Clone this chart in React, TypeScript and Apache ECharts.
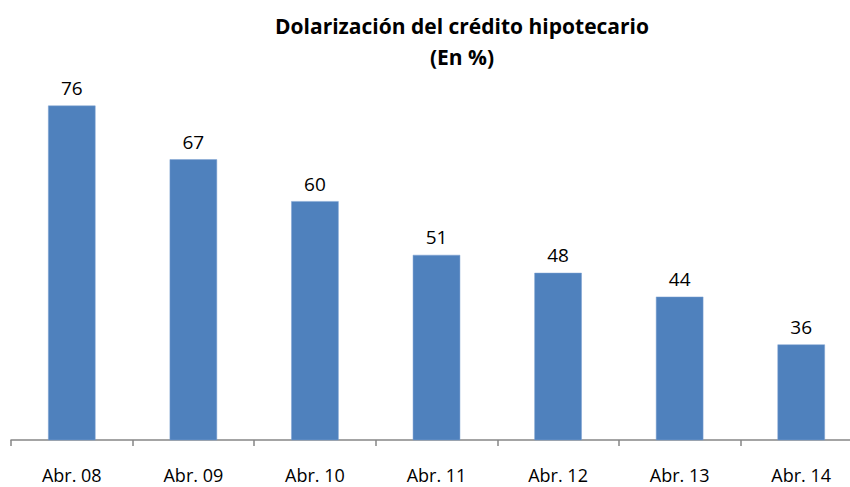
import React, { useEffect, useRef } from "react";
import * as echarts from "echarts";

const categories = ["Abr. 08", "Abr. 09", "Abr. 10", "Abr. 11", "Abr. 12", "Abr. 13", "Abr. 14"];
const values = [76, 67, 60, 51, 48, 44, 36];

export default function App() {
  const ref = useRef<HTMLDivElement>(null);
  useEffect(() => {
    if (!ref.current) return;
    const chart = echarts.init(ref.current, null, { renderer: "svg" });
    chart.setOption({
      animation: false,
      backgroundColor: "#ffffff",
      title: {
        text: "Dolarización del crédito hipotecario\n(En %)",
        left: 457,
        top: 5,
        textAlign: "center",
        textStyle: {
          fontFamily: "Open Sans",
          fontSize: 21,
          fontWeight: "bold",
          color: "#000000",
          lineHeight: 31,
        },
      },
      grid: { left: 11, right: 0, top: 22, bottom: 47 },
      xAxis: {
        type: "category",
        data: categories,
        axisLine: { lineStyle: { color: "#868686", width: 1.5 } },
        axisTick: { show: true, length: 6, lineStyle: { color: "#868686", width: 1.5 } },
        axisLabel: { fontFamily: "Open Sans", fontSize: 18, color: "#000000", margin: 26 },
      },
      yAxis: {
        type: "value",
        min: 20,
        max: 90,
        show: false,
        splitLine: { show: false },
      },
      series: [
        {
          type: "bar",
          data: values,
          barCategoryGap: "61%",
          itemStyle: { color: "#4f81bd", borderColor: "#7fa3d3", borderWidth: 0.5 },
          label: {
            show: true,
            position: "top",
            distance: 8,
            fontFamily: "Open Sans",
            fontSize: 19,
            color: "#000000",
          },
        },
      ],
    });
    return () => chart.dispose();
  }, []);
  return (
    <div
      ref={ref}
      style={{ position: "absolute", left: 0, top: 0, width: 862, height: 487 }}
    />
  );
}
